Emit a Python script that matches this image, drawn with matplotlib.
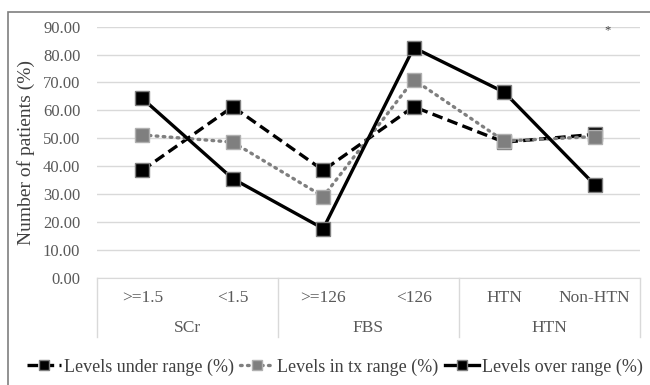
import matplotlib
matplotlib.use("Agg")
import matplotlib.pyplot as plt
from matplotlib.patches import Rectangle
import matplotlib.transforms as mtransforms

plt.rcParams['font.family'] = ['Liberation Serif', 'DejaVu Serif']

sub_labels = [">=1.5", "<1.5", ">=126", "<126", "HTN", "Non-HTN"]
group_labels = ["SCr", "FBS", "HTN"]
under_range = [38.5, 61.3, 38.5, 61.3, 48.6, 51.4]
in_tx_range = [51.2, 48.6, 29.1, 71.0, 49.0, 50.6]
over_range = [64.3, 35.5, 17.6, 82.5, 66.5, 33.3]
series_names = ["Levels under range (%)", "Levels in tx range (%)", "Levels over range (%)"]
yticks = [0, 10, 20, 30, 40, 50, 60, 70, 80, 90]

W, H = 650, 385
fig = plt.figure(figsize=(W / 100, H / 100), dpi=100)
fig.patches.append(Rectangle((8 / W, -0.1), 2, 1 - 12 / H + 0.1, transform=fig.transFigure,
                             fill=False, edgecolor='#7f7f7f', linewidth=1.2))

left, right = 97 / W, 640 / W
bottom, top = 1 - 277.7 / H, 1 - 26.7 / H
ax = fig.add_axes([left, bottom, right - left, top - bottom])

x = list(range(len(sub_labels)))
ms = 10
ax.plot(x, under_range, color='black', linestyle=(0, (3.2, 1.6)), linewidth=2.4,
        marker='s', markersize=ms, markerfacecolor='black', markeredgecolor='#7f7f7f',
        markeredgewidth=1, label=series_names[0], zorder=3)
ax.plot(x, in_tx_range, color='#7f7f7f', linestyle=(0, (0.5, 1.6)), linewidth=2.4,
        dash_capstyle='round', marker='s', markersize=ms, markerfacecolor='#7f7f7f',
        markeredgecolor='#b0b0b0', markeredgewidth=1, label=series_names[1], zorder=3)
ax.plot(x, over_range, color='black', linestyle='-', linewidth=2.4,
        marker='s', markersize=ms, markerfacecolor='black', markeredgecolor='#7f7f7f',
        markeredgewidth=1, label=series_names[2], zorder=3)

ax.set_xlim(-0.5, len(sub_labels) - 0.5)
ax.set_ylim(0, 90)
ax.set_yticks(yticks)
ax.set_yticklabels([f"{v:.2f}" for v in yticks], fontsize=12, color='#595959')
ax.tick_params(axis='y', length=0, pad=12)
ax.set_xticks([])
ax.yaxis.grid(True, color='#d9d9d9', linewidth=1)
ax.set_axisbelow(True)
for s in ['top', 'right', 'left']:
    ax.spines[s].set_visible(False)
ax.spines['bottom'].set_color('#d9d9d9')

ax.set_ylabel("Number of patients (%)", fontsize=14, color='#404040', labelpad=6)

trans = mtransforms.blended_transform_factory(ax.transData, ax.transAxes)
for i, lab in enumerate(sub_labels):
    ax.text(i, -0.082, lab, transform=trans, ha='center', va='center',
            fontsize=12.5, color='#595959')
for g, lab in enumerate(group_labels):
    ax.text(2 * g + 0.5, -0.2, lab, transform=trans, ha='center', va='center',
            fontsize=12.5, color='#595959')
for b in [-0.5, 1.5, 3.5, 5.5]:
    ax.plot([b, b], [0, -0.236], transform=trans, color='#d9d9d9', linewidth=1, clip_on=False)

ax.text(608 / W, 1 - 30 / H, "*", transform=fig.transFigure, ha='center', va='center',
        fontsize=9, color='#404040')

fig.legend(loc='center', bbox_to_anchor=(0.515, 1 - 367 / H), ncol=3, frameon=False,
           fontsize=13, handlelength=1.9, handletextpad=0.15, columnspacing=0.35,
           numpoints=1, labelcolor='#404040', markerscale=0.75)

fig.savefig("out.png", dpi=100)
